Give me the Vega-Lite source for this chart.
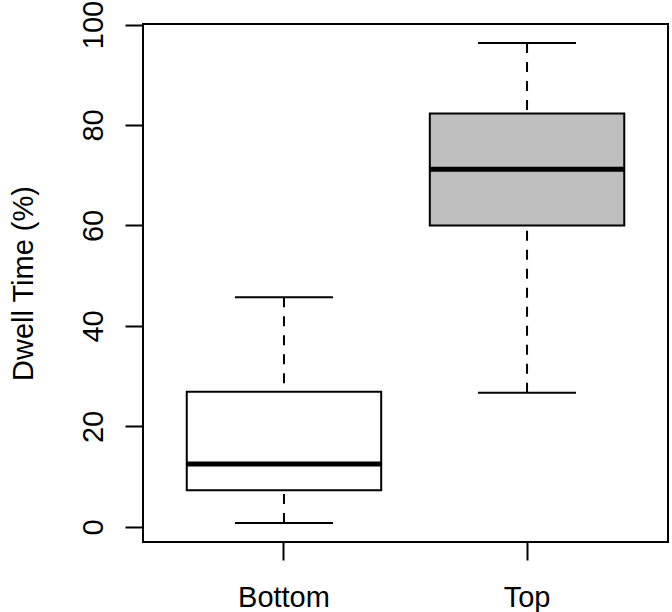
{
  "$schema": "https://vega.github.io/schema/vega-lite/v6.json",
  "autosize": {"type": "none"},
  "padding": {"left": 143, "top": 24, "right": 4, "bottom": 70},
  "width": 525,
  "height": 518,
  "background": "white",
  "config": {
    "font": "Liberation Sans",
    "view": {"stroke": "black", "strokeWidth": 2},
    "axis": {"grid": false, "domain": false, "tickColor": "black", "tickWidth": 2, "tickSize": 18, "labelColor": "black", "labelFontSize": 29, "labelFont": "Liberation Sans", "titleFont": "Liberation Sans", "titleColor": "black", "titleFontSize": 29, "titleFontWeight": "normal"}
  },
  "data": {"values": [
    {"group": "Bottom", "min": 0.8, "q1": 7.3, "median": 12.5, "q3": 26.9, "max": 45.7},
    {"group": "Top", "min": 26.7, "q1": 60.0, "median": 71.2, "q3": 82.3, "max": 96.3}
  ]},
  "encoding": {
    "x": {"field": "group", "type": "nominal", "sort": ["Bottom", "Top"],
      "scale": {"paddingInner": 0.2, "paddingOuter": 0.18},
      "axis": {"title": null, "labelAngle": 0, "labelBaseline": "alphabetic", "labelPadding": 46}}
  },
  "layer": [
    {"mark": {"type": "rule", "stroke": "black", "strokeWidth": 2, "strokeDash": [10, 9]},
     "encoding": {"y": {"field": "max", "type": "quantitative",
        "scale": {"domain": [-3.0, 100.1], "nice": false, "zero": false},
        "axis": {"title": "Dwell Time (%)", "values": [0, 20, 40, 60, 80, 100], "labelAngle": 270, "labelAlign": "center", "labelBaseline": "alphabetic", "labelPadding": 23, "titleAngle": 270, "titleBaseline": "alphabetic", "titleX": -111, "titleY": 259, "titleAlign": "center"}},
      "y2": {"field": "q3"}}},
    {"mark": {"type": "rule", "stroke": "black", "strokeWidth": 2, "strokeDash": [10, 9]},
     "encoding": {"y": {"field": "min", "type": "quantitative"}, "y2": {"field": "q1"}}},
    {"mark": {"type": "bar", "stroke": "black", "strokeWidth": 2},
     "encoding": {"y": {"field": "q1", "type": "quantitative"}, "y2": {"field": "q3"},
       "color": {"field": "group", "type": "nominal", "scale": {"domain": ["Bottom", "Top"], "range": ["#ffffff", "#bebebe"]}, "legend": null}}},
    {"mark": {"type": "tick", "color": "black", "thickness": 5, "size": 195, "opacity": 1},
     "encoding": {"y": {"field": "median", "type": "quantitative"}}},
    {"mark": {"type": "tick", "color": "black", "thickness": 2, "size": 98, "opacity": 1},
     "encoding": {"y": {"field": "max", "type": "quantitative"}}},
    {"mark": {"type": "tick", "color": "black", "thickness": 2, "size": 98, "opacity": 1},
     "encoding": {"y": {"field": "min", "type": "quantitative"}}}
  ]
}
